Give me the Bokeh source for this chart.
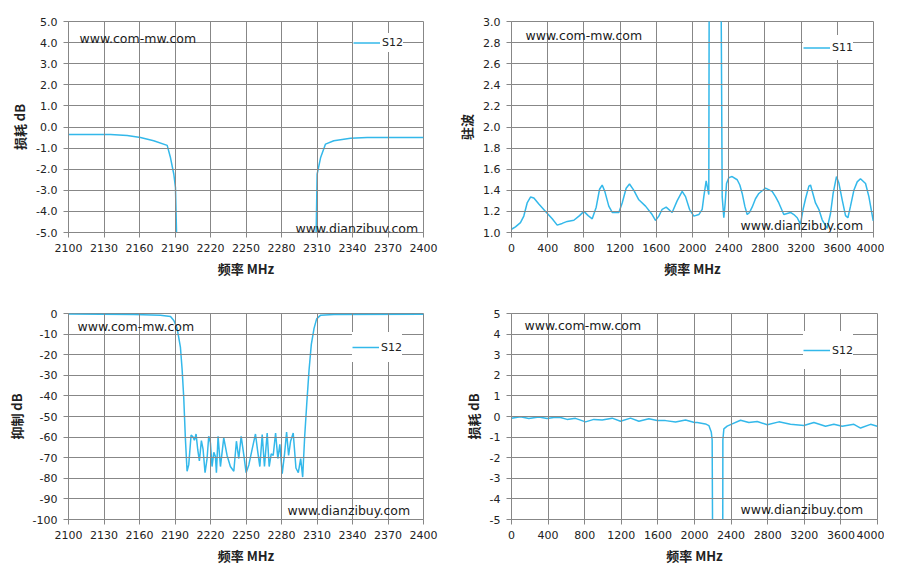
from bokeh.plotting import figure
from bokeh.models import Range1d, FixedTicker, NumeralTickFormatter, Label
from bokeh.layouts import column, row
from bokeh.embed import file_html
from bokeh.resources import INLINE


# chart 1: S12 loss, 2100-2400 MHz
loss_freq = [2100, 2135.5, 2149.6, 2160.8, 2172, 2183.4, 2186.2, 2189, 2190.4, 2191.3, 2192,
             2250, 2308.5, 2309.3, 2310.1, 2313, 2317.2, 2324.2, 2338.3, 2352.4, 2366.5, 2400]
loss_db = [-0.36, -0.36, -0.4, -0.5, -0.65, -0.87, -1.46, -2.24, -2.87, -5.0, -40,
           -60, -40, -5.0, -2.24, -1.46, -0.81, -0.65, -0.53, -0.5, -0.5, -0.5]

# chart 2: S11 VSWR, 0-4000 MHz
vswr_freq = [0, 44, 99, 136, 173, 210, 247, 302, 376, 450, 505, 560, 616, 689, 752, 800, 847,
             892, 936, 973, 1002, 1031, 1075, 1113, 1186, 1223, 1267, 1304, 1352, 1407, 1481,
             1554, 1591, 1628, 1665, 1709, 1775, 1830, 1886, 1923, 1967, 2015, 2070, 2107,
             2125, 2151, 2169, 2180, 2184, 2190, 2310, 2317, 2328, 2346, 2361, 2376, 2402,
             2438, 2494, 2523, 2549, 2578, 2604, 2630, 2659, 2696, 2733, 2807, 2880, 2917,
             2954, 3009, 3046, 3083, 3120, 3157, 3193, 3222, 3249, 3286, 3304, 3359, 3396,
             3433, 3488, 3525, 3554, 3591, 3617, 3654, 3691, 3717, 3746, 3783, 3820, 3856,
             3912, 3949, 3997]
vswr = [1.031, 1.053, 1.093, 1.156, 1.28, 1.336, 1.327, 1.27, 1.20, 1.13, 1.07, 1.086, 1.105,
        1.116, 1.16, 1.20, 1.16, 1.13, 1.24, 1.41, 1.45, 1.39, 1.25, 1.19, 1.19, 1.28, 1.42,
        1.46, 1.40, 1.31, 1.25, 1.17, 1.114, 1.155, 1.22, 1.24, 1.19, 1.30, 1.39, 1.34, 1.22,
        1.155, 1.17, 1.22, 1.34, 1.49, 1.41, 1.36, 3.1, 30, 30, 3.1, 1.34, 1.14, 1.28, 1.465,
        1.52, 1.53, 1.50, 1.45, 1.37, 1.25, 1.17, 1.19, 1.24, 1.32, 1.37, 1.42, 1.39, 1.34,
        1.28, 1.17, 1.18, 1.19, 1.17, 1.14, 1.08, 1.22, 1.32, 1.44, 1.45, 1.28, 1.22, 1.12,
        1.04, 1.18, 1.37, 1.53, 1.47, 1.31, 1.16, 1.14, 1.25, 1.40, 1.48, 1.51, 1.465, 1.34,
        1.11]

# chart 3: S12 rejection, 2100-2400 MHz
rej_freq = [2100, 2155.2, 2177.7, 2186.2, 2189, 2191.8, 2194.6, 2196, 2197.4, 2198.8, 2200.2,
            2201.6, 2203.6, 2205.3, 2206.4, 2207.8, 2209.2, 2210.6, 2212.3, 2213.7, 2215.4,
            2217.1, 2218.5, 2219.9, 2221.3, 2222.8, 2224.2, 2225, 2226.4, 2228.4, 2231.2,
            2234, 2236.8, 2239.7, 2241.9, 2243.9, 2245.9, 2248.2, 2250.1, 2252.4, 2255.2,
            2258, 2260, 2261.7, 2263.7, 2265.6, 2267.9, 2269.6, 2271.3, 2273, 2275, 2276.9,
            2278.6, 2280.6, 2282.6, 2284.3, 2286, 2287.7, 2289.9, 2292.2, 2294.2, 2296.2,
            2297.9, 2299.6, 2301.3, 2303.3, 2305.2, 2307.5, 2309.7, 2313.1, 2324.4, 2400]
rej_db = [-0.3, -0.5, -0.8, -1.5, -3.4, -7.2, -16.5, -27, -41, -61, -76.6,
          -73.5, -59, -60, -61.5, -58.5, -66, -71.6, -61.7, -65.8, -77.3,
          -70.4, -59.6, -62.7, -74.3, -67.4, -69.6, -77.3, -59.6, -74.3, -60.4,
          -68.9, -74.3, -76.6, -62, -70.4, -59.6, -68.9, -77.3, -73.5, -65.8,
          -58.5, -67.4, -74.3, -58.8, -74.3, -58, -74.3, -68.1, -68.9, -58, -70.4,
          -63.5, -77.8, -68.1, -57.6, -68.9, -62, -58, -75, -77.3, -70.4,
          -79.4, -59.6, -44.2, -27.3, -15, -7.2, -2.6, -0.8, -0.5, -0.4]

# chart 4: S12 loss, 0-4000 MHz
wide_freq = [0, 98, 189, 299, 390, 462, 535, 608, 699, 809, 900, 991, 1100, 1191, 1301, 1392,
             1501, 1592, 1683, 1793, 1902, 2000, 2029, 2120, 2157, 2183, 2193, 2197, 2200, 2300,
             2310, 2321, 2357, 2412, 2503, 2594, 2685, 2795, 2922, 3049, 3195, 3305, 3432,
             3523, 3614, 3742, 3815, 3924, 3997]
wide_db = [-0.08, -0.01, -0.10, -0.02, -0.10, -0.05, -0.05, -0.14, -0.09, -0.26, -0.14, -0.17,
           -0.08, -0.23, -0.08, -0.23, -0.11, -0.19, -0.2, -0.27, -0.17, -0.29, -0.29, -0.36,
           -0.44, -0.75, -1.14, -5.0, -40, -40, -1.14, -0.6, -0.47, -0.36, -0.18, -0.29, -0.24,
           -0.40, -0.26, -0.38, -0.44, -0.29, -0.47, -0.38, -0.47, -0.38, -0.56, -0.38, -0.47]

narrow_ticks = [2100, 2130, 2160, 2190, 2220, 2250, 2280, 2310, 2340, 2370, 2400]
wide_ticks = [0, 400, 800, 1200, 1600, 2000, 2400, 2800, 3200, 3600, 4000]

LINE = "#33b8ea"
GRID = "#878787"
TEXT = "#222222"


def make_chart(xr, yr, xticks, yticks, yfmt, ylabel, borders, size, series, legend_loc, glyph_h,
               marks):
    left, right, top, bottom = borders
    p = figure(width=size[0], height=size[1], output_backend="svg",
               toolbar_location=None, x_range=Range1d(*xr), y_range=Range1d(*yr),
               min_border_left=left, min_border_right=right, min_border_top=top,
               min_border_bottom=bottom, background_fill_color=None,
               border_fill_color="white", outline_line_color=GRID)
    p.xaxis.ticker = FixedTicker(ticks=xticks)
    p.yaxis.ticker = FixedTicker(ticks=yticks)
    p.xgrid.ticker = FixedTicker(ticks=xticks)
    p.ygrid.ticker = FixedTicker(ticks=yticks)
    p.yaxis.formatter = NumeralTickFormatter(format=yfmt)
    for ax in p.axis:
        ax.axis_line_color = GRID
        ax.major_tick_line_color = GRID
        ax.major_tick_out = 5
        ax.major_tick_in = 0
        ax.minor_tick_line_color = None
        ax.major_label_text_font = "DejaVu Sans"
        ax.major_label_text_font_size = "11px"
        ax.major_label_text_color = TEXT
        ax.major_label_standoff = 6
        ax.axis_label_text_font = "Noto Sans CJK SC"
        ax.axis_label_text_font_style = "bold"
        ax.axis_label_text_font_size = "13px"
        ax.axis_label_text_color = TEXT
        ax.axis_label_standoff = 4
    p.xaxis.axis_label = "频率 MHz"
    p.yaxis.axis_label = ylabel
    for g in (p.xgrid, p.ygrid):
        g.grid_line_color = GRID
        g.grid_line_alpha = 1.0
        g.grid_line_width = 1
        g.level = "glyph"

    xs, ys, name = series
    p.line(xs, ys, line_color=LINE, line_width=1.5, legend_label=name)
    p.legend.location = legend_loc
    p.legend.background_fill_color = "white"
    p.legend.background_fill_alpha = 1.0
    p.legend.border_line_color = None
    p.legend.padding = 4
    p.legend.margin = 0
    p.legend.glyph_width = 27
    p.legend.glyph_height = glyph_h
    p.legend.label_standoff = 2
    p.legend.label_text_font = "DejaVu Sans"
    p.legend.label_text_font_size = "11px"
    p.legend.label_text_color = TEXT

    for (mx, my, mtext) in marks:
        p.add_layout(Label(x=mx, y=my, text=mtext, text_font="DejaVu Sans",
                           text_font_size="12.5px", text_color="#1a1a1a",
                           text_baseline="middle"))
    return p


# borders are (left, right, top, bottom) so the frames land where the reference has them
p1 = make_chart((2100, 2400), (-5, 5), narrow_ticks, list(range(-5, 6)), "0.0", "损耗 dB",
                (68, 19, 18, 50), (442, 282), (loss_freq, loss_db, "S12"), (285, 180), 19,
                [(2109.3, 4.21, "www.com-mw.com"), (2291.8, -4.81, "www.dianzibuy.com")])
p2 = make_chart((0, 4000), (1.0, 3.0), wide_ticks, [1.0 + 0.2 * i for i in range(11)], "0.0",
                "驻波", (69, 11, 21, 47), (442, 282), (vswr_freq, vswr, "S11"), (292, 172), 25,
                [(155, 2.87, "www.com-mw.com"), (2530, 1.065, "www.dianzibuy.com")])
p3 = make_chart((2100, 2400), (-100, 0), narrow_ticks, list(range(-100, 1, 10)), "0", "抑制 dB",
                (68, 19, 29, 40), (442, 285), (rej_freq, rej_db, "S12"), (284, 157), 30,
                [(2107.6, -6.5, "www.com-mw.com"), (2285, -95.8, "www.dianzibuy.com")])
p4 = make_chart((0, 4000), (-5, 5), wide_ticks, list(range(-5, 6)), "0", "损耗 dB",
                (69, 7, 31, 39), (442, 285), (wide_freq, wide_db, "S12"), (292, 150), 38,
                [(142, 4.44, "www.com-mw.com"), (2502, -4.53, "www.dianzibuy.com")])

page = column(row(p1, p2, spacing=0), row(p3, p4, spacing=0), spacing=0)
open("out.html", "w").write(file_html(page, INLINE))
